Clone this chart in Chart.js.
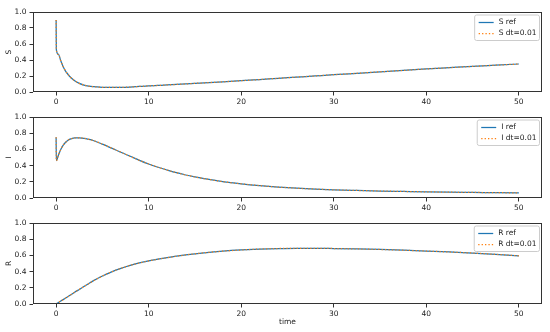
<!DOCTYPE html>
<html>
<head>
<meta charset="utf-8">
<script src="https://cdn.jsdelivr.net/npm/chart.js@4.4.0/dist/chart.umd.min.js"></script>
<style>
  html, body { margin: 0; padding: 0; background: #fff; }
  #wrap { position: relative; width: 550px; height: 332px; overflow: hidden; }
  canvas { position: absolute; left: 0; }
</style>
</head>
<body>
<div id="wrap">
  <canvas id="c1" width="550" height="115" style="top:0px"></canvas>
  <canvas id="c2" width="550" height="115" style="top:105px"></canvas>
  <canvas id="c3" width="550" height="122" style="top:210px"></canvas>
</div>
<script>
'use strict';

// czas (os X) - wspolny dla wszystkich serii
var time = [0, 0.02, 0.25, 0.5, 0.75, 1, 1.25, 1.5, 2, 2.5, 3, 3.5, 4, 5, 6, 7, 8, 9, 10, 11, 12, 13, 14, 15, 16,
  18, 20, 22, 24, 26, 28, 30, 32.5, 35, 37.5, 40, 42.5, 45, 47.5, 50];

// S
var sRef = [0.90, 0.53, 0.47, 0.39, 0.32, 0.265, 0.225, 0.19, 0.14, 0.108, 0.087, 0.074, 0.066, 0.059, 0.057, 0.058,
  0.062, 0.069, 0.076, 0.082, 0.088, 0.095, 0.101, 0.108, 0.114, 0.127, 0.141, 0.156, 0.171, 0.186, 0.201, 0.216,
  0.234, 0.252, 0.27, 0.288, 0.304, 0.32, 0.335, 0.35];
// I
var iRef = [0.75, 0.46, 0.53, 0.60, 0.65, 0.685, 0.71, 0.726, 0.741, 0.743, 0.737, 0.725, 0.71, 0.665, 0.615, 0.565,
  0.515, 0.465, 0.42, 0.38, 0.345, 0.312, 0.284, 0.26, 0.238, 0.202, 0.175, 0.153, 0.135, 0.121, 0.11, 0.101,
  0.093, 0.086, 0.081, 0.076, 0.072, 0.069, 0.066, 0.063];
// R
var rRef = [0, 0.001, 0.018, 0.036, 0.054, 0.072, 0.09, 0.108, 0.145, 0.18, 0.215, 0.25, 0.285, 0.345, 0.397, 0.44,
  0.477, 0.507, 0.532, 0.553, 0.572, 0.59, 0.606, 0.62, 0.632, 0.652, 0.667, 0.678, 0.685, 0.688, 0.688, 0.685,
  0.68, 0.673, 0.664, 0.654, 0.642, 0.629, 0.613, 0.595];
// dt=0.01 pokrywa sie z ref
var sDt = sRef.slice();
var iDt = iRef.slice();
var rDt = rRef.slice();

var xTicks = [0, 10, 20, 30, 40, 50];
var yTicks = [0, 0.2, 0.4, 0.6, 0.8, 1.0];

var FONT = 'DejaVu Sans';
var FONT_SIZE = 7.5;
var AXIS_COLOR = '#333';

function toPoints(xs, ys) {
  var out = [];
  for (var i = 0; i < xs.length; i++) {
    out.push({ x: xs[i], y: ys[i] });
  }
  return out;
}

// ramka wokol wykresu + legenda w prawym gornym rogu
var framePlugin = {
  id: 'frame',
  afterDatasetsDraw: function(chart) {
    var ctx = chart.ctx;
    var a = chart.chartArea;
    ctx.save();
    ctx.strokeStyle = AXIS_COLOR;
    ctx.lineWidth = 1;
    ctx.strokeRect(Math.round(a.left) + 0.5, Math.round(a.top) + 0.5,
      Math.round(a.right - a.left) - 1, Math.round(a.bottom - a.top) - 1);

    // legenda
    var ds = chart.data.datasets;
    ctx.font = FONT_SIZE + 'px "' + FONT + '"';
    var tw = 0;
    for (var i = 0; i < ds.length; i++) {
      tw = Math.max(tw, ctx.measureText(ds[i].label).width);
    }
    var w = 24 + tw + 3;
    var h = 25.5;
    var right = a.right - 2.5;
    var left = right - w;
    var top = a.top + 3;
    ctx.beginPath();
    ctx.roundRect(left, top, w, h, 2);
    ctx.fillStyle = 'rgba(255,255,255,0.8)';
    ctx.fill();
    ctx.strokeStyle = '#cccccc';
    ctx.lineWidth = 1;
    ctx.stroke();
    for (var j = 0; j < ds.length; j++) {
      var cy = top + 7.5 + j * 11;
      ctx.beginPath();
      ctx.strokeStyle = ds[j].borderColor;
      ctx.lineWidth = ds[j].borderWidth;
      ctx.setLineDash(ds[j].borderDash || []);
      ctx.moveTo(left + 4, cy);
      ctx.lineTo(left + 19, cy);
      ctx.stroke();
      ctx.setLineDash([]);
      ctx.fillStyle = '#222';
      ctx.textBaseline = 'middle';
      ctx.textAlign = 'left';
      ctx.fillText(ds[j].label, left + 24, cy);
    }
    ctx.restore();
  }
};

function makePanel(id, padTop, plotBottom, name, refVals, dtVals, showTime) {
  var canvas = document.getElementById(id);
  var axisHeight = canvas.height - plotBottom;
  return new Chart(canvas.getContext('2d'), {
    type: 'line',
    data: {
      datasets: [{
        label: name + ' ref',
        data: toPoints(time, refVals),
        borderColor: '#1f77b4',
        borderWidth: 1.25,
        pointRadius: 0,
        cubicInterpolationMode: 'monotone',
        order: 2
      },
      {
        label: name + ' dt=0.01',
        data: toPoints(time, dtVals),
        borderColor: '#ff7f0e',
        borderWidth: 1.25,
        borderDash: [1.3, 2.1],
        pointRadius: 0,
        cubicInterpolationMode: 'monotone',
        order: 1
      }]
    },
    options: {
      responsive: false,
      animation: false,
      layout: { padding: { top: padTop, right: 8, left: 0, bottom: 0 } },
      plugins: { legend: { display: false }, tooltip: { enabled: false } },
      scales: {
        x: {
          type: 'linear',
          min: -2.5,
          max: 52.5,
          afterBuildTicks: function(scale) {
            scale.ticks = xTicks.map(function(v) { return { value: v }; });
          },
          afterFit: function(scale) { scale.height = axisHeight; },
          border: { display: false },
          grid: { drawOnChartArea: false, drawTicks: true, tickLength: 3.5, color: AXIS_COLOR },
          ticks: { color: '#222', padding: 2.5, maxRotation: 0, font: { family: FONT, size: FONT_SIZE } },
          title: {
            display: showTime,
            text: 'time',
            color: '#222',
            font: { family: FONT, size: FONT_SIZE },
            padding: { top: 0, bottom: 5.3 }
          }
        },
        y: {
          min: 0,
          max: 1,
          afterBuildTicks: function(scale) {
            scale.ticks = yTicks.map(function(v) { return { value: v }; });
          },
          afterFit: function(scale) { scale.width = 33; },
          border: { display: false },
          grid: { drawOnChartArea: false, drawTicks: true, tickLength: 3.5, color: AXIS_COLOR },
          ticks: {
            color: '#222',
            padding: 3,
            font: { family: FONT, size: FONT_SIZE },
            callback: function(v) { return Number(v).toFixed(1); }
          },
          title: {
            display: true,
            text: name,
            color: '#222',
            font: { family: FONT, size: FONT_SIZE },
            padding: { top: 4.5, bottom: 0 }
          }
        }
      }
    },
    plugins: [framePlugin]
  });
}

makePanel('c1', 12, 92, 'S', sRef, sDt, false);
makePanel('c2', 12, 93, 'I', iRef, iDt, false);
makePanel('c3', 13, 94, 'R', rRef, rDt, true);
</script>
</body>
</html>
